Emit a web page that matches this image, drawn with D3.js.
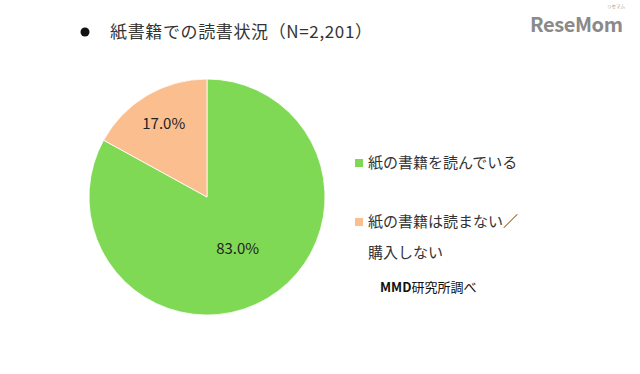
<!DOCTYPE html>
<html>
<head>
<meta charset="utf-8">
<script src="https://cdn.jsdelivr.net/npm/d3@7"></script>
<style>
body { margin: 0; background: #fff; }
text { font-family: "Noto Sans CJK JP", "Noto Sans", sans-serif; }
</style>
</head>
<body>
<script>
// Pie chart: paper book reading status (N=2,201)
var width = 640,
    height = 374;

var categories = ['紙の書籍を読んでいる', '紙の書籍は読まない／購入しない'];
var values = [83.0, 17.0];
var colors = ['#80d954', '#fbbf8f'];
var legendLines = [['紙の書籍を読んでいる'], ['紙の書籍は読まない／', '購入しない']];

var svg = d3.select('body').append('svg')
    .attr('width', width)
    .attr('height', height);

// title
svg.append('circle')
    .attr('cx', 85)
    .attr('cy', 32)
    .attr('r', 4.5)
    .attr('fill', '#111');

svg.append('text')
    .attr('x', 110)
    .attr('y', 38)
    .attr('font-size', 17)
    .attr('fill', '#333')
    .attr('textLength', 262)
    .text('紙書籍での読書状況（N=2,201）');

// logo
svg.append('text')
    .attr('x', 530)
    .attr('y', 32)
    .attr('font-family', 'DejaVu Sans, sans-serif')
    .attr('font-weight', 'bold')
    .attr('font-size', 20)
    .attr('fill', '#8a8a8a')
    .attr('textLength', 93)
    .text('ReseMom');

svg.append('text')
    .attr('x', 607)
    .attr('y', 8)
    .attr('font-size', 4.5)
    .attr('fill', '#999')
    .text('リセマム');

// pie
var cx = 207,
    cy = 197,
    radius = 118;

var pie = d3.pie()
    .sort(null)
    .value(function(d) { return d; });

var arcs = pie(values);

var arc = d3.arc()
    .innerRadius(0)
    .outerRadius(radius);

// label radius per slice
var labelR = [0.51, 0.72];

var pieG = svg.append('g')
    .attr('transform', 'translate(' + cx + ',' + cy + ')');

pieG.selectAll('path')
    .data(arcs)
    .enter()
    .append('path')
    .attr('d', arc)
    .attr('fill', function(d, i) { return colors[i]; })
    .attr('stroke', '#fff')
    .attr('stroke-width', 0.8);

pieG.selectAll('.lbl')
    .data(arcs)
    .enter()
    .append('text')
    .classed('lbl', true)
    .attr('transform', function(d, i) {
        var r = radius * labelR[i];
        var c = d3.arc().innerRadius(r).outerRadius(r).centroid(d);
        return 'translate(' + c[0] + ',' + c[1] + ')';
    })
    .attr('text-anchor', 'middle')
    .attr('dy', '0.35em')
    .attr('font-size', 15)
    .attr('fill', '#222')
    .text(function(d) { return d.data.toFixed(1) + '%'; });

// legend
var legendY = [163, 222];
var legend = svg.append('g');

legendLines.forEach(function(lines, i) {
    legend.append('rect')
        .attr('x', 355)
        .attr('y', legendY[i] - 4)
        .attr('width', 8)
        .attr('height', 8)
        .attr('fill', colors[i]);
    lines.forEach(function(line, j) {
        legend.append('text')
            .attr('x', 368)
            .attr('y', legendY[i] + 31 * j)
            .attr('dy', '0.35em')
            .attr('font-size', 15)
            .attr('fill', '#333')
            .text(line);
    });
});

var src = svg.append('text')
    .attr('x', 380)
    .attr('y', 287)
    .attr('dy', '0.35em')
    .attr('font-size', 13)
    .attr('fill', '#111');
src.append('tspan').attr('font-weight', 'bold').text('MMD');
src.append('tspan').attr('font-weight', 'normal').text('研究所調べ');
</script>
</body>
</html>
